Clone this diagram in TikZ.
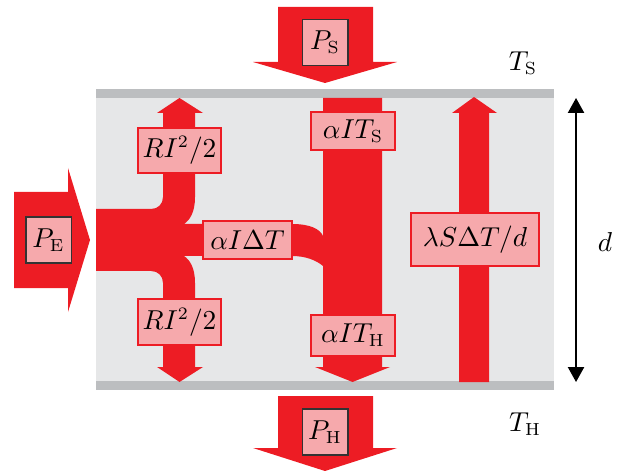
\documentclass[tikz,border=0pt]{standalone}
\usetikzlibrary{arrows.meta}
\definecolor{flowred}{HTML}{ED1C24}
\definecolor{labelpink}{HTML}{F6A9AC}
\definecolor{barGray}{HTML}{BCBEC0}
\definecolor{slabGray}{HTML}{E6E7E8}
\begin{document}
\begin{tikzpicture}[x=0.4pt,y=-0.4pt,
  font=\fontsize{10.5}{12.5}\selectfont,
  flow/.style={fill=flowred, draw=none},
  lbl/.style={draw=flowred, fill=labelpink, line width=0.5pt, inner sep=0pt},
  pbox/.style={draw=black!80, fill=labelpink, line width=0.6pt, inner sep=0pt, minimum width=18.2pt, minimum height=18.4pt},
  dim/.style={line width=0.6pt, {Triangle[length=6pt,width=6.5pt]}-{Triangle[length=6pt,width=6.5pt]}}]
\useasboundingbox (0,0) rectangle (624,471);
% slab
\fill[slabGray] (96,97) rectangle (554,382);
\fill[barGray] (96,89) rectangle (554,98);
\fill[barGray] (96,381) rectangle (554,390);
% external arrows
\fill[flow] (14,192) -- (68,192) -- (68,168) -- (90,240) -- (68,312) -- (68,288) -- (14,288) -- cycle;
\fill[flow] (278,7) -- (373,7) -- (373,62) -- (397,62) -- (325,83) -- (253,62) -- (278,62) -- cycle;
\fill[flow] (278,396) -- (373,396) -- (373,448) -- (397,448) -- (325,471) -- (253,448) -- (278,448) -- cycle;
% vertical column (alpha I T)
\fill[flow] (323,98) -- (382,98) -- (382,367) -- (390,367) -- (352.5,382) -- (315,367) -- (323,367) -- cycle;
% conduction arrow
\fill[flow] (459,382) -- (459,113) -- (452,113) -- (474,97) -- (497,113) -- (489,113) -- (489,382) -- cycle;
% left branching flow
\fill[flow] (96,209) -- (151,209) .. controls (158,209) and (163,204) .. (163,197)
  -- (163,113) -- (157,113) -- (179.5,98) -- (203,113) -- (195,113) -- (195,197)
  .. controls (195,212) and (190,220) .. (184,224)
  -- (292,224) .. controls (310,224) and (320,229) .. (323,236)
  -- (330,236) -- (330,266) -- (323,266)
  .. controls (316,260) and (305,256) .. (292,256)
  -- (184,256) .. controls (190,260) and (195,268) .. (195,283)
  -- (195,367) -- (203,367) -- (179.5,382) -- (157,367) -- (163,367) -- (163,283)
  .. controls (163,276) and (158,271) .. (151,271) -- (96,271) -- cycle;
% labels
\node[pbox] (pe) at (48.5,240) {$P_\mathrm{E}$};
\node[pbox] (ps) at (325,42.5) {$P_\mathrm{S}$};
\node[pbox] (ph) at (325,432) {$P_\mathrm{H}$};
\node[lbl, minimum width=33.2pt, minimum height=18pt] (rtop) at (179.5,150.5) {$RI^2/2$};
\node[lbl, minimum width=33.2pt, minimum height=18.4pt] (rbot) at (179.5,322) {$RI^2/2$};
\node[lbl, minimum width=33.6pt, minimum height=15.2pt] (ats) at (353,131) {$\alpha I T_\mathrm{S}$};
\node[lbl, minimum width=33.6pt, minimum height=16.4pt] (ath) at (353,335.5) {$\alpha I T_\mathrm{H}$};
\node[lbl, minimum width=35.6pt, minimum height=15.2pt] (adt) at (247.5,240) {$\alpha I\Delta T$};
\node[lbl, minimum width=51.2pt, minimum height=21.2pt] (lam) at (475,239.5) {$\lambda S\Delta T/d$};
% temperatures and thickness
\node (ts) at (523,63) {$T_\mathrm{S}$};
\node (th) at (525,424) {$T_\mathrm{H}$};
\coordinate (dtop) at (576,98);
\coordinate (dbot) at (576,382);
\draw[dim] (dtop) -- (dbot);
\node (dl) at (605,242) {$d$};
\end{tikzpicture}
\end{document}
